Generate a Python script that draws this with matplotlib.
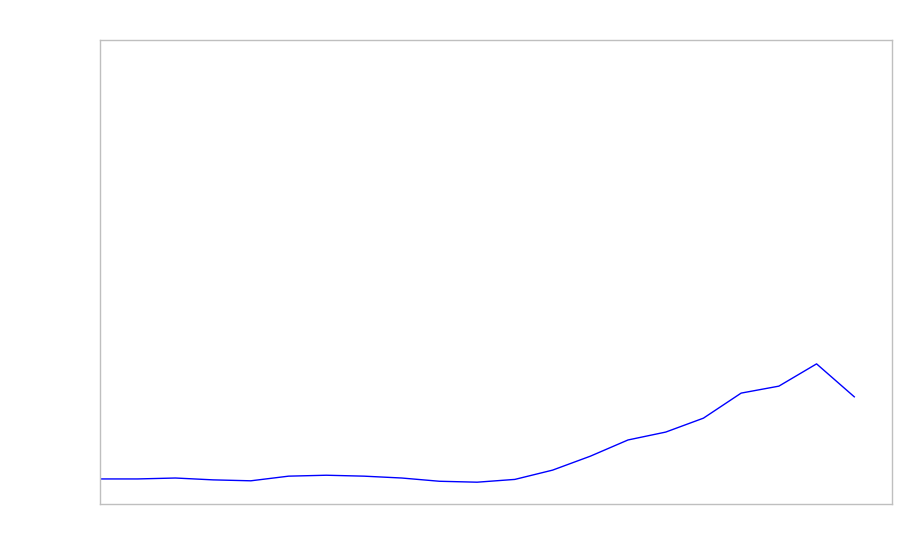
import matplotlib
matplotlib.use("Agg")
import matplotlib.pyplot as plt

# values (axis has no labels, 0-100 scale assumed)
x_idx = list(range(21))
values = [5.4, 5.4, 5.6, 5.2, 5.0, 6.0, 6.2, 6.0, 5.6, 4.9, 4.7, 5.3,
          7.3, 10.3, 13.8, 15.5, 18.5, 23.9, 25.4, 30.2, 23.1]

fig = plt.figure(figsize=(9, 5.6), dpi=100)
ax = fig.add_axes([100 / 900, 56 / 560, 792 / 900, 464 / 560])

ax.plot(x_idx, values, color="blue", linewidth=1)
ax.set_xlim(0, 21)
ax.set_ylim(0, 100)
ax.set_xticks([])
ax.set_yticks([])
for s in ax.spines.values():
    s.set_color("#bfbfbf")
    s.set_linewidth(1)

fig.savefig("out.png", dpi=100)
